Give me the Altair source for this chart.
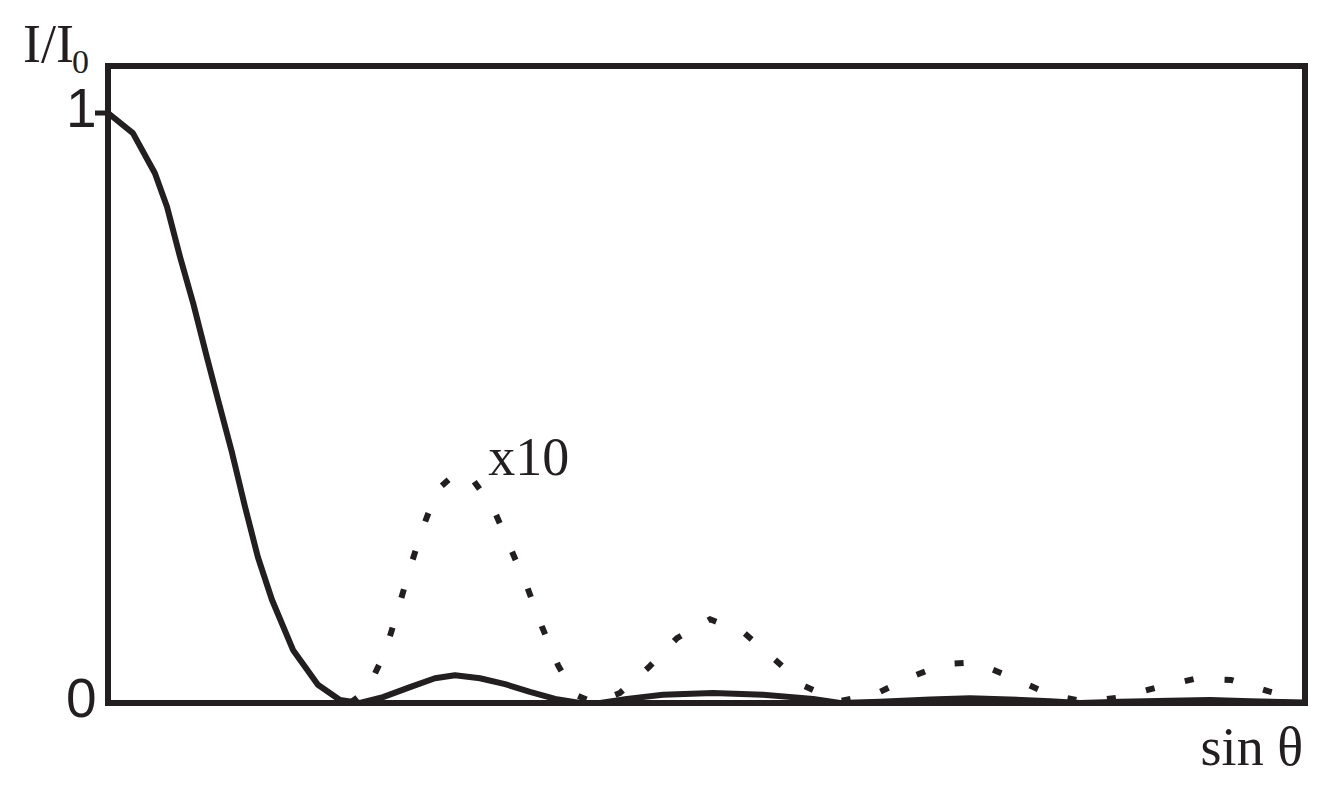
import altair as alt
import pandas as pd

# Solid curve: I/I0 versus sin(theta) (arbitrary units, zeros near 1, 2, 3, 4)
sin_solid = [0.000, 0.103, 0.194, 0.244, 0.298, 0.352, 0.409, 0.455, 0.513, 0.567,
             0.620, 0.678, 0.765, 0.868, 0.959, 1.042, 1.137, 1.249, 1.352, 1.435,
             1.538, 1.642, 1.745, 1.849, 1.952, 2.035, 2.146, 2.295, 2.502, 2.709,
             2.916, 3.027, 3.193, 3.400, 3.565, 3.730, 3.896, 4.020, 4.185, 4.392,
             4.557, 4.723, 4.950]
I_solid = [1.000, 0.966, 0.898, 0.841, 0.756, 0.678, 0.586, 0.514, 0.424, 0.332,
           0.247, 0.175, 0.090, 0.031, 0.005, 0.000, 0.010, 0.027, 0.042, 0.047,
           0.042, 0.032, 0.019, 0.007, 0.000, 0.000, 0.007, 0.014, 0.017, 0.014,
           0.007, 0.000, 0.002, 0.006, 0.008, 0.006, 0.003, 0.000, 0.002, 0.004,
           0.005, 0.003, 0.001]

# Dotted curve: the same intensity magnified x10
sin_dot = [1.001, 1.071, 1.146, 1.199, 1.249, 1.303, 1.361, 1.435, 1.497, 1.592,
           1.663, 1.733, 1.795, 1.861, 1.931, 2.014, 2.117, 2.237, 2.353, 2.490,
           2.630, 2.754, 2.878, 3.019, 3.168, 3.308, 3.457, 3.586, 3.751, 3.896,
           4.041, 4.194, 4.342, 4.495, 4.644, 4.797, 4.909]
I_dot = [0.000, 0.022, 0.086, 0.158, 0.229, 0.298, 0.361, 0.388, 0.385, 0.331,
         0.264, 0.197, 0.129, 0.064, 0.014, 0.000, 0.017, 0.061, 0.110, 0.142,
         0.119, 0.075, 0.029, 0.003, 0.014, 0.042, 0.066, 0.069, 0.041, 0.014,
         0.002, 0.010, 0.027, 0.041, 0.039, 0.020, 0.008]

y_ticks = [0, 1]
tick_mark = [1]
annot_text = ["x10"]
annot_s = [1.572]
annot_I = [0.386]

INK = "#231f20"
W, H = 1197, 637
XMAX = 4.95
YMAX = 1.0797

df_solid = pd.DataFrame({"s": sin_solid, "I": I_solid})
df_dot = pd.DataFrame({"s": sin_dot, "I": I_dot})
df_tick = pd.DataFrame({"I": tick_mark})
df_annot = pd.DataFrame({"s": annot_s, "I": annot_I, "t": annot_text})

xs = alt.Scale(domain=[0, XMAX], nice=False, zero=False)
ys = alt.Scale(domain=[0, YMAX], nice=False, zero=False)
yaxis = alt.Axis(values=y_ticks, format="d", ticks=False, domain=False, grid=False,
                 labelFont="Liberation Sans", labelFontSize=55, labelColor=INK,
                 labelPadding=12, labelBaseline="alphabetic", labelOffset=13,
                 title=None)

X = alt.X("s:Q", scale=xs, axis=None)
Y = alt.Y("I:Q", scale=ys, axis=yaxis)

solid = alt.Chart(df_solid).mark_line(color=INK, strokeWidth=6, strokeJoin="round").encode(x=X, y=Y)
dotted = alt.Chart(df_dot).mark_line(color=INK, strokeWidth=6, strokeDash=[9, 31]).encode(x=X, y=Y)
tick = alt.Chart(df_tick).mark_rule(color=INK, strokeWidth=5).encode(
    y=Y, x=alt.value(-13), x2=alt.value(0))
x10 = alt.Chart(df_annot).mark_text(font="Liberation Serif", fontSize=54, color=INK,
                                    align="left", baseline="alphabetic").encode(x=X, y=Y, text="t:N")

ylab = alt.Chart(pd.DataFrame({"t": ["I/I"]})).mark_text(
    font="Liberation Serif", fontSize=54, color=INK, align="left", baseline="alphabetic"
).encode(text="t:N", x=alt.value(-85), y=alt.value(-4))
ysub = alt.Chart(pd.DataFrame({"t": ["0"]})).mark_text(
    font="Liberation Serif", fontSize=34, color=INK, align="left", baseline="alphabetic"
).encode(text="t:N", x=alt.value(-36), y=alt.value(7))
xlab = alt.Chart(pd.DataFrame({"t": ["sin θ"]})).mark_text(
    font="Liberation Serif", fontSize=54, color=INK, align="right", baseline="alphabetic"
).encode(text="t:N", x=alt.value(W - 2), y=alt.value(699))

chart = alt.layer(solid, dotted, tick, x10, ylab, ysub, xlab).properties(
    width=W, height=H,
    padding={"left": 100, "top": 58, "right": 17, "bottom": 75},
    autosize=alt.AutoSizeParams(type="none"),
    background="white",
).configure_view(stroke=INK, strokeWidth=6)

chart.save("out.html", embed_options={"renderer": "svg", "actions": False})
